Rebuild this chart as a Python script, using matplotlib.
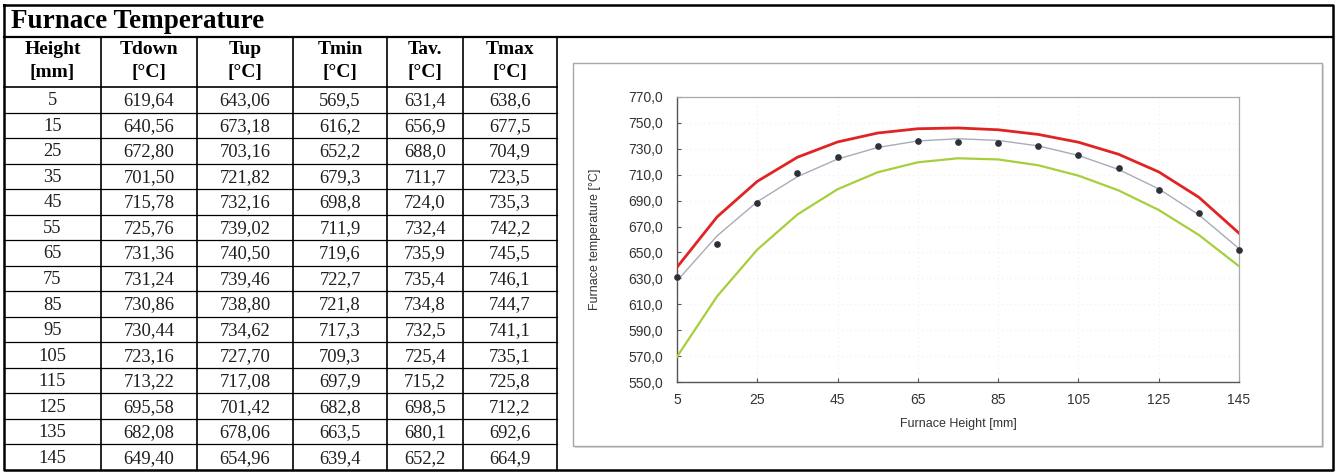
import numpy as np
import matplotlib
matplotlib.use("Agg")
import matplotlib.pyplot as plt
from matplotlib.patches import Rectangle
from matplotlib.ticker import FuncFormatter

# table / chart data
height = [5, 15, 25, 35, 45, 55, 65, 75, 85, 95, 105, 115, 125, 135, 145]
tdown = [619.64, 640.56, 672.80, 701.50, 715.78, 725.76, 731.36, 731.24,
         730.86, 730.44, 723.16, 713.22, 695.58, 682.08, 649.40]
tup = [643.06, 673.18, 703.16, 721.82, 732.16, 739.02, 740.50, 739.46,
       738.80, 734.62, 727.70, 717.08, 701.42, 678.06, 654.96]
tmin = [569.5, 616.2, 652.2, 679.3, 698.8, 711.9, 719.6, 722.7,
        721.8, 717.3, 709.3, 697.9, 682.8, 663.5, 639.4]
tav = [631.4, 656.9, 688.0, 711.7, 724.0, 732.4, 735.9, 735.4,
       734.8, 732.5, 725.4, 715.2, 698.5, 680.1, 652.2]
tmax = [638.6, 677.5, 704.9, 723.5, 735.3, 742.2, 745.5, 746.1,
        744.7, 741.1, 735.1, 725.8, 712.2, 692.6, 664.9]

headers = [("Height", "[mm]"), ("Tdown", "[°C]"), ("Tup", "[°C]"),
           ("Tmin", "[°C]"), ("Tav.", "[°C]"), ("Tmax", "[°C]")]

W, H = 1336, 473
fig = plt.figure(figsize=(W / 100, H / 100), dpi=100)

# full-figure axes in pixel units for the table and frames
bg = fig.add_axes([0, 0, 1, 1])
bg.set_xlim(0, W)
bg.set_ylim(H, 0)
bg.axis("off")

serif = "Liberation Serif"
col_x = [4, 101, 197, 293, 387, 463, 557]
top, title_bot, head_bot, bot = 5, 37, 87, 470
row_h = (bot - head_bot) / len(height)

# outer frame + title row
bg.plot([4, 1333, 1333, 4, 4], [top, top, bot, bot, top], color="black", lw=1.8)
bg.plot([4, 1333], [title_bot, title_bot], color="black", lw=1.6)
bg.text(11, (top + title_bot) / 2 + 1, "Furnace Temperature", family=serif,
        weight="bold", fontsize=19.5, va="center", ha="left")

# column lines
for x in col_x[1:]:
    bg.plot([x, x], [title_bot, bot], color="black", lw=1.2)
bg.plot([4, 557], [head_bot, head_bot], color="black", lw=1.2)
for i in range(1, len(height)):
    y = head_bot + i * row_h
    bg.plot([4, 557], [y, y], color="black", lw=0.9)

for j, (a, b) in enumerate(headers):
    cx = (col_x[j] + col_x[j + 1]) / 2
    bg.text(cx, 50, a, family=serif, weight="bold", fontsize=14, ha="center", va="center")
    bg.text(cx, 73, b, family=serif, weight="bold", fontsize=14, ha="center", va="center")

columns = [
    [str(h) for h in height],
    [f"{v:.2f}" for v in tdown],
    [f"{v:.2f}" for v in tup],
    [f"{v:.1f}" for v in tmin],
    [f"{v:.1f}" for v in tav],
    [f"{v:.1f}" for v in tmax],
]
for j, col in enumerate(columns):
    cx = (col_x[j] + col_x[j + 1]) / 2
    for i, s in enumerate(col):
        cy = head_bot + (i + 0.5) * row_h + 1
        bg.text(cx, cy, s.replace(".", ","), family=serif, fontsize=13.3,
                ha="center", va="center", color="#1e1e1e")

# chart box
bg.add_patch(Rectangle((575, 65), 749, 383, facecolor="#dcdcdc", edgecolor="none"))
bg.add_patch(Rectangle((573, 63), 749, 383, facecolor="white", edgecolor="#a8a8a8", lw=1.0))

# chart
sans = "Liberation Sans"
ax = fig.add_axes([677 / W, (H - 382) / H, (1239 - 677) / W, (382 - 97) / H])
ax.set_xlim(5, 145)
ax.set_ylim(550, 770)
ax.set_xticks(range(5, 146, 20))
ax.set_yticks(range(550, 771, 20))
ax.yaxis.set_major_formatter(FuncFormatter(lambda v, p: f"{v:.1f}".replace(".", ",")))
ax.grid(True, color="#efefef", lw=0.8, ls=(0, (1, 3)))
ax.set_axisbelow(True)

fit = np.polyval(np.polyfit(height, tav, 4), height)
ax.plot(height, tmax, color="#e02424", lw=2.0, zorder=3)
ax.plot(height, tmin, color="#a6cf3c", lw=1.6, zorder=3)
ax.plot(height, fit, color="#a9abb8", lw=1.0, zorder=3)
ax.plot(height, tav, ls="none", marker="o", ms=3.8, color="#2e3038", zorder=4, clip_on=False)

for s in ["top", "right"]:
    ax.spines[s].set_color("#a8a8a8")
    ax.spines[s].set_linewidth(0.9)
for s in ["left", "bottom"]:
    ax.spines[s].set_color("#555555")
    ax.spines[s].set_linewidth(1.0)
ax.tick_params(axis="both", direction="in", length=3, width=0.8, color="#555555",
               labelsize=10, labelcolor="#333333")
ax.tick_params(axis="x", pad=8)
ax.tick_params(axis="y", pad=10)
for lab in ax.get_xticklabels() + ax.get_yticklabels():
    lab.set_family(sans)
ax.set_xlabel("Furnace Height [mm]", family=sans, fontsize=9, color="#333333", labelpad=8)
ax.set_ylabel("Furnace temperature [°C]", family=sans, fontsize=9, color="#333333", labelpad=20)

fig.savefig("out.png", dpi=100)
